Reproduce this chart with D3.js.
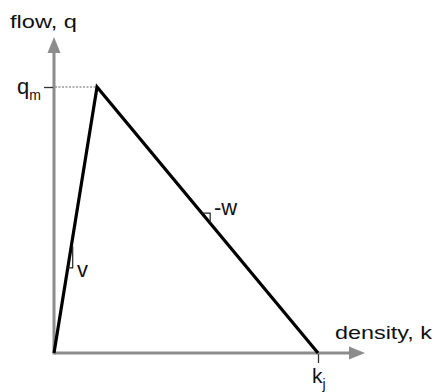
<!DOCTYPE html>
<html><head><meta charset="utf-8">
<script src="https://cdn.jsdelivr.net/npm/d3@7"></script>
<style>body{margin:0;background:#fff}svg{display:block}text{font-family:"Liberation Sans",Arial,sans-serif;fill:#111}</style>
</head><body><svg id="c" width="435" height="392"></svg>
<script>
// fundamental diagram (triangular): density k vs flow q, normalised
const density = [0, 0.163, 1];      // 0, critical density, k_j
const flow = [0, 1, 0];             // 0, q_m, 0
const yTickValues = [1];            // q_m
const yTickLabels = [["q", "m"]];
const xTickValues = [1];            // k_j
const xTickLabels = [["k", "j"]];
const axisTitles = ["flow, q", "density, k"];
const slopeLabels = ["v", "-w"];
const slopeMarkerFlows = [[0.40, 0.32], [0.526, 0.488]];

const svg = d3.select("#c");
const x = d3.scaleLinear().domain([0, 1]).range([54, 318]);
const y = d3.scaleLinear().domain([0, 1]).range([353, 87]);
const gray = "#8c8c8c";
const xEnd = 365, yEnd = 37;

// axes lines
svg.append("line").attr("x1", x(0)).attr("x2", xEnd - 12).attr("y1", y(0)).attr("y2", y(0))
  .attr("stroke", gray).attr("stroke-width", 3);
svg.append("line").attr("x1", x(0)).attr("x2", x(0)).attr("y1", y(0) + 1.5).attr("y2", yEnd + 12)
  .attr("stroke", gray).attr("stroke-width", 3);
svg.append("path").attr("d", `M${xEnd},${y(0)} L${xEnd-16},${y(0)-6.5} L${xEnd-16},${y(0)+6.5}Z`).attr("fill", gray);
svg.append("path").attr("d", `M${x(0)},${yEnd} L${x(0)-6.5},${yEnd+16} L${x(0)+6.5},${yEnd+16}Z`).attr("fill", gray);

// ticks via d3 axes
const ya = svg.append("g").attr("transform", `translate(${x(0)-1},0)`)
  .call(d3.axisLeft(y).tickValues(yTickValues).tickSize(9).tickFormat(""));
ya.select(".domain").remove();
ya.selectAll(".tick line").attr("stroke", "#333").attr("stroke-width", 1.3);
const xa = svg.append("g").attr("transform", `translate(0,${y(0)+1})`)
  .call(d3.axisBottom(x).tickValues(xTickValues).tickSize(9).tickFormat(""));
xa.select(".domain").remove();
xa.selectAll(".tick line").attr("stroke", "#333").attr("stroke-width", 1.3);

// dotted guide at q_m
svg.append("line").attr("x1", x(0)+1).attr("x2", x(density[1])).attr("y1", y(flow[1])).attr("y2", y(flow[1]))
  .attr("stroke", "#999").attr("stroke-width", 1.5).attr("stroke-dasharray", "2,1.5");

// main curve
const pts = density.map((d, i) => [d, flow[i]]);
svg.append("path").datum(pts)
  .attr("d", d3.line().x(d => x(d[0])).y(d => y(d[1])))
  .attr("fill", "none").attr("stroke", "#000").attr("stroke-width", 3.2).attr("stroke-linejoin", "miter");

// slope markers
const kOnV = q => density[1] * q;
const kOnW = q => density[1] + (1 - density[1]) * (1 - q);
const [v1, v2] = slopeMarkerFlows[0];
svg.append("path").attr("d", `M${x(kOnV(v1))+1.5},${y(v1)} L${x(kOnV(v1))+1.5},${y(v2)} L${x(kOnV(v2))},${y(v2)}`)
  .attr("fill", "none").attr("stroke", "#222").attr("stroke-width", 1.2);
const [w1, w2] = slopeMarkerFlows[1];
svg.append("path").attr("d", `M${x(kOnW(w1))},${y(w1)} L${x(kOnW(w2))},${y(w1)} L${x(kOnW(w2))},${y(w2)}`)
  .attr("fill", "none").attr("stroke", "#222").attr("stroke-width", 1.2);

// labels
svg.append("text").attr("x", 10).attr("y", 28).attr("font-size", 19)
  .attr("textLength", 67).attr("lengthAdjust", "spacingAndGlyphs").text(axisTitles[0]);
svg.append("text").attr("x", 335).attr("y", 339).attr("font-size", 19)
  .attr("textLength", 97).attr("lengthAdjust", "spacingAndGlyphs").text(axisTitles[1]);

function subLabel(px, py, parts, fs) {
  const t = svg.append("text").attr("x", px).attr("y", py).attr("font-size", fs);
  t.append("tspan").text(parts[0]);
  t.append("tspan").attr("font-size", 14).attr("dy", 6).text(parts[1]);
}
subLabel(17, 94, yTickLabels[0], 22);
subLabel(312, 383, xTickLabels[0], 21);

svg.append("text").attr("x", 77).attr("y", 277).attr("font-size", 22).text(slopeLabels[0]);
svg.append("text").attr("x", 214).attr("y", 215).attr("font-size", 22).text(slopeLabels[1]);
</script></body></html>
